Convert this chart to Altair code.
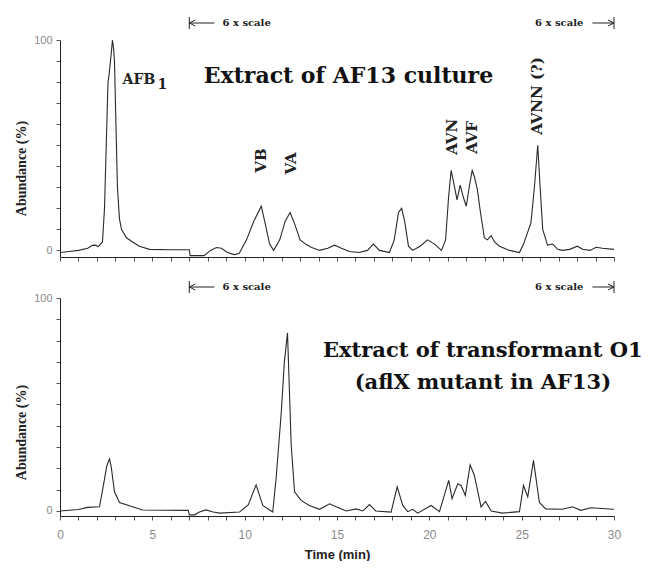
import altair as alt
import pandas as pd

# ---------------- data ----------------
top_time = [0.0, 0.5, 1.0, 1.5, 1.76, 1.92, 2.08, 2.3, 2.41, 2.52, 2.6, 2.65, 2.71, 2.79, 2.84, 2.9, 2.95,
            3.03, 3.11, 3.22, 3.33, 3.6, 3.93, 4.3, 4.85, 6.0, 7.0, 7.05, 7.8, 8.15, 8.47, 8.74, 9.07, 9.43,
            9.7, 10.1, 10.5, 10.9, 11.13, 11.35, 11.57, 11.9, 12.2, 12.46, 12.73, 13.0, 13.3, 13.6, 14.05,
            14.5, 14.87, 15.24, 15.67, 16.2, 16.65, 16.97, 17.3, 17.84, 18.1, 18.33, 18.5, 18.66, 18.87, 19.1,
            19.5, 19.9, 20.28, 20.66, 20.88, 21.04, 21.18, 21.3, 21.5, 21.67, 21.85, 22.0, 22.16, 22.32,
            22.44, 22.6, 22.77, 22.98, 23.14, 23.35, 23.53, 23.8, 24.34, 24.88, 25.1, 25.26, 25.5, 25.69,
            25.87, 26.0, 26.14, 26.4, 26.68, 26.95, 27.2, 27.6, 28.02, 28.3, 28.7, 29.03, 29.37, 30.0]
top_abund = [-1, -0.5, 0, 1, 2.4, 2.5, 1.8, 4, 20, 55, 80, 83, 88, 95, 100, 96, 90,
             60, 30, 15, 10, 6, 4, 2, 0.5, 0.3, 0.3, -2.5, -2.5, 0, 1.4, 1, -1, -2,
             -1.5, 5, 14, 21, 12, 3, 0, 5, 14, 18, 12, 5, 3, 1.5, 0,
             1, 2.5, 1, -0.5, -1, 0, 3, 0, -1, 5, 18, 20, 14, 2, 0,
             2, 5, 3, 0, 5, 25, 38, 33, 24, 31, 25, 21, 30, 38,
             35, 29, 18, 6, 5, 7, 4, 2, 0, -1, 3, 7, 13, 30,
             50, 30, 10, 2.5, 3, 0.5, 0, 0.5, 2, 0.5, 0, 1.5, 1, 0.5]

bot_time = [0.0, 1.0, 1.5, 2.14, 2.41, 2.53, 2.68, 2.77, 2.95, 3.22, 3.93, 4.47, 6.95, 7.0, 7.3, 7.55,
            7.9, 8.3, 8.65, 9.72, 10.2, 10.62, 10.98, 11.52, 11.7, 11.98, 12.15, 12.32, 12.52, 12.7,
            13.06, 13.5, 14.05, 14.6, 14.95, 15.5, 16.04, 16.4, 16.76, 17.1, 17.93, 18.26, 18.56, 18.83,
            19.1, 19.37, 20.1, 20.55, 21.05, 21.23, 21.54, 21.72, 21.95, 22.21, 22.44, 22.8, 23.04, 23.35,
            23.96, 24.88, 25.1, 25.33, 25.64, 25.96, 26.3, 27.2, 27.75, 28.2, 28.76, 29.93, 30.0]
bot_abund = [0, 0.7, 1.7, 2, 15, 21, 24.5, 21, 9, 4, 2, 0.5, 0.3, -1.8, -1.8, -0.5,
             0.5, -0.5, -1, -0.5, 3, 12.3, 2.6, -0.5, 15, 46, 70, 83.6, 31, 9,
             5, 2.6, 0.8, 3.4, 2, 0, 1, 0, 3, 0, -0.5, 11.3, 2.6, -0.3,
             0.8, -1, 2.6, -0.3, 14.4, 5.8, 12.8, 12, 7.3, 21.7, 16.7, 1.9, 4.5, 0,
             -1, -0.3, 12, 6.6, 23.8, 4, 1, 0.8, 2, 0.3, 1.5, 0.8, 0.8]

peak_names = ["VB", "VA", "AVN", "AVF", "AVNN (?)"]
peak_time = [10.86, 12.53, 21.25, 22.33, 25.85]
peak_level = [42.7, 41.3, 54.0, 53.7, 73.4]

afb_text = ["AFB", "1"]
afb_time = [3.39, 5.28]
afb_level = [79.0, 76.5]

top_title = ["Extract of AF13 culture"]
top_title_time = [15.62]
top_title_level = [82.7]

bot_title = ["Extract of transformant O1", "(aflX mutant in AF13)"]
bot_title_time = [22.9, 22.9]
bot_title_level = [75.3, 60.2]

scale_text = ["6 x scale", "6 x scale"]
scale_text_time = [8.8, 28.34]
scale_bar_time = [7.0, 30.0]
scale_line_start = [7.0, 28.83]
scale_line_end = [8.36, 30.0]

SERIF_B = "DejaVu Serif"
INK = "#222222"
LINE = "#2a2a2a"
GREY = "#8a8a8a"

X_SCALE = alt.Scale(domain=[0, 30], nice=False)
W = 554


def y_axis(title_y):
    return alt.Axis(
        values=list(range(0, 101, 10)),
        labelExpr="datum.value == 0 || datum.value == 100 ? datum.label : ''",
        tickSize=4, tickColor="#555555", domainColor=INK,
        labelFont="Liberation Sans", labelFontSize=11, labelColor=GREY, labelPadding=4,
        title="Abundance (%)", titleFont="Liberation Serif", titleFontWeight="bold",
        titleFontSize=14, titleColor=INK, titleAngle=270, titleX=-39, titleY=title_y,
        titleAlign="center", titleBaseline="middle", grid=False,
    )


def x_axis(bottom):
    if bottom:
        return alt.Axis(
            values=list(range(0, 31)),
            labelExpr="datum.value % 5 == 0 ? datum.label : ''",
            labelOverlap=False, labelFlush=False,
            tickSize=4, tickColor="#555555", domainColor=INK,
            labelFont="Liberation Sans", labelFontSize=12, labelColor=GREY, labelPadding=9,
            title="Time (min)", titleFont="Liberation Sans", titleFontWeight="bold",
            titleFontSize=13, titleColor=INK, titlePadding=8, grid=False,
        )
    return alt.Axis(values=list(range(0, 31)), labels=False, tickSize=4, tickColor="#555555",
                    domainColor=INK, title=None, grid=False)


def panel(time, abund, y_scale, bottom, title_y, arrow_y, extra):
    xa = x_axis(bottom)
    ya = y_axis(title_y)

    def X():
        return alt.X("t:Q", scale=X_SCALE, axis=xa)

    def Y():
        return alt.Y("a:Q", scale=y_scale, axis=ya)

    df = pd.DataFrame({"t": time, "a": abund})
    layers = [alt.Chart(df).mark_line(color=LINE, strokeWidth=1.1).encode(x=X(), y=Y())]

    for d, props in extra:
        layers.append(alt.Chart(d).mark_text(**props).encode(x=X(), y=Y(), text="label:N"))

    # "6 x scale" annotations
    d = pd.DataFrame({"t": scale_text_time, "label": scale_text})
    txt = dict(baseline="middle", font=SERIF_B, fontWeight="bold", fontSize=10, color=INK)
    layers.append(alt.Chart(d.iloc[[0]]).mark_text(align="left", **txt).encode(
        x=X(), y=alt.value(arrow_y), text="label:N"))
    layers.append(alt.Chart(d.iloc[[1]]).mark_text(align="right", **txt).encode(
        x=X(), y=alt.value(arrow_y), text="label:N"))
    ln = pd.DataFrame({"t": scale_line_start, "t2": scale_line_end})
    layers.append(alt.Chart(ln).mark_rule(color=INK, strokeWidth=1).encode(
        x=X(), x2="t2:Q", y=alt.value(arrow_y)))
    bars = pd.DataFrame({"t": scale_bar_time})
    layers.append(alt.Chart(bars.iloc[[0]]).mark_point(
        shape="M0,-1L0,1M0,0L1,-0.5M0,0L1,0.5", filled=False, size=144, color=INK,
        strokeWidth=1, opacity=1).encode(x=X(), y=alt.value(arrow_y)))
    layers.append(alt.Chart(bars.iloc[[1]]).mark_point(
        shape="M0,-1L0,1M0,0L-1,-0.5M0,0L-1,0.5", filled=False, size=144, color=INK,
        strokeWidth=1, opacity=1).encode(x=X(), y=alt.value(arrow_y)))
    return alt.layer(*layers)


# ---------------- top panel ----------------
top_y_scale = alt.Scale(domain=[-3.14, 100], nice=False)
peaks_df = pd.DataFrame({"t": peak_time, "a": peak_level, "label": peak_names})
afb_df = pd.DataFrame({"t": afb_time, "a": afb_level, "label": afb_text})
tt_df = pd.DataFrame({"t": top_title_time, "a": top_title_level, "label": top_title})
top_extra = [
    (peaks_df, dict(angle=270, align="center", baseline="middle", font=SERIF_B,
                    fontWeight="bold", fontSize=15, color=INK)),
    (afb_df, dict(align="left", baseline="alphabetic", font=SERIF_B, fontWeight="bold",
                  fontSize=14, color=INK)),
    (tt_df, dict(align="center", baseline="middle", font=SERIF_B, fontWeight="bold",
                 fontSize=22, color="#111111")),
]
top = panel(top_time, top_abund, top_y_scale, False, 128, -17, top_extra).properties(
    width=W, height=217)

# ---------------- bottom panel ----------------
bot_y_scale = alt.Scale(domain=[-2.35, 100], nice=False)
bt_df = pd.DataFrame({"t": bot_title_time, "a": bot_title_level, "label": bot_title})
bot_extra = [
    (bt_df, dict(align="center", baseline="middle", font=SERIF_B, fontWeight="bold",
                 fontSize=21, color="#111111")),
]
bottom = panel(bot_time, bot_abund, bot_y_scale, True, 134, -11, bot_extra).properties(
    width=W, height=218)

chart = alt.vconcat(top, bottom, spacing=41, bounds="flush").properties(
    padding={"left": 6, "top": 7, "right": 0, "bottom": 0}, background="white"
).configure_view(stroke=None)

chart.save("out.html", embed_options={"renderer": "svg", "actions": False})
